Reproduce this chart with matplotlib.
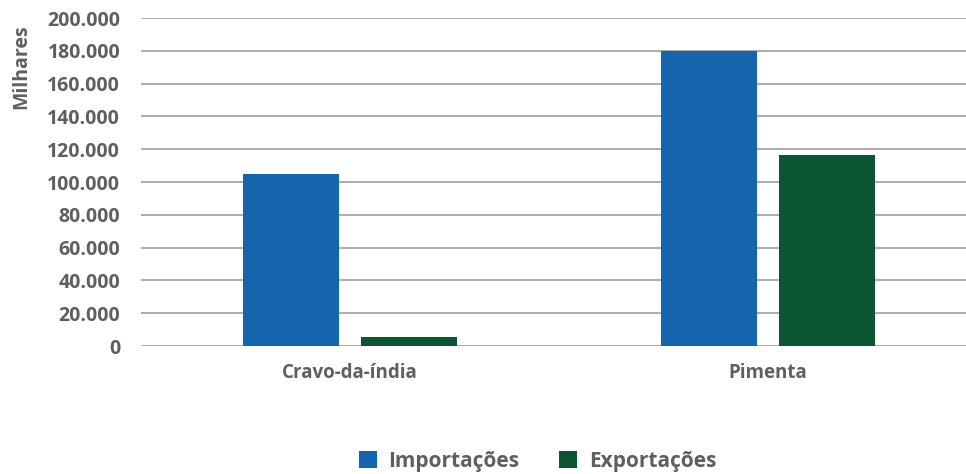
import numpy as np
import matplotlib.pyplot as plt
from matplotlib.ticker import FuncFormatter

categories = ["Cravo-da-índia", "Pimenta"]
importacoes = [105000, 180000]
exportacoes = [5500, 116500]
series_names = ["Importações", "Exportações"]

blue = "#1565ae"
green = "#0b5630"
gray = "#5f5f5f"

plt.rcParams['font.family'] = ['Open Sans', 'DejaVu Sans']
plt.rcParams['font.weight'] = 'bold'

fig = plt.figure(figsize=(9.66, 4.74), dpi=100)
ax = fig.add_axes([0.146, 0.27, 0.854, 0.692])

x = np.arange(len(categories))
w = 0.23
ax.bar(x - 0.142, importacoes, w, color=blue, label=series_names[0], zorder=3)
ax.bar(x + 0.142, exportacoes, w, color=green, label=series_names[1], zorder=3)

ax.set_xlim(-0.5, 1.474)
ax.set_ylim(0, 200000)
ax.set_yticks(np.arange(0, 200001, 20000))
ax.yaxis.set_major_formatter(FuncFormatter(lambda v, p: f"{int(v):,}".replace(",", ".")))
ax.set_xticks(x)
ax.set_xticklabels(categories)

ax.grid(axis='y', color='#a6a6a6', linewidth=1.3, zorder=0)
for s in ax.spines.values():
    s.set_visible(False)
ax.tick_params(axis='both', length=0, colors=gray)
ax.tick_params(axis='y', pad=15, labelsize=14)
ax.tick_params(axis='x', pad=12, labelsize=13.5)
for lbl in ax.get_xticklabels() + ax.get_yticklabels():
    lbl.set_fontweight('bold')

fig.text(0.022, 0.86, "Milhares", rotation=90, ha='center', va='center',
         color=gray, fontsize=14, fontweight='bold')

leg = fig.legend(loc='center', bbox_to_anchor=(0.5564, 0.027), ncol=2, frameon=False,
                 fontsize=15, handlelength=0.87, handleheight=0.87, columnspacing=1.9,
                 handletextpad=0.55)
for t in leg.get_texts():
    t.set_color(gray)
    t.set_fontweight('bold')

fig.savefig("out.png", dpi=100)
